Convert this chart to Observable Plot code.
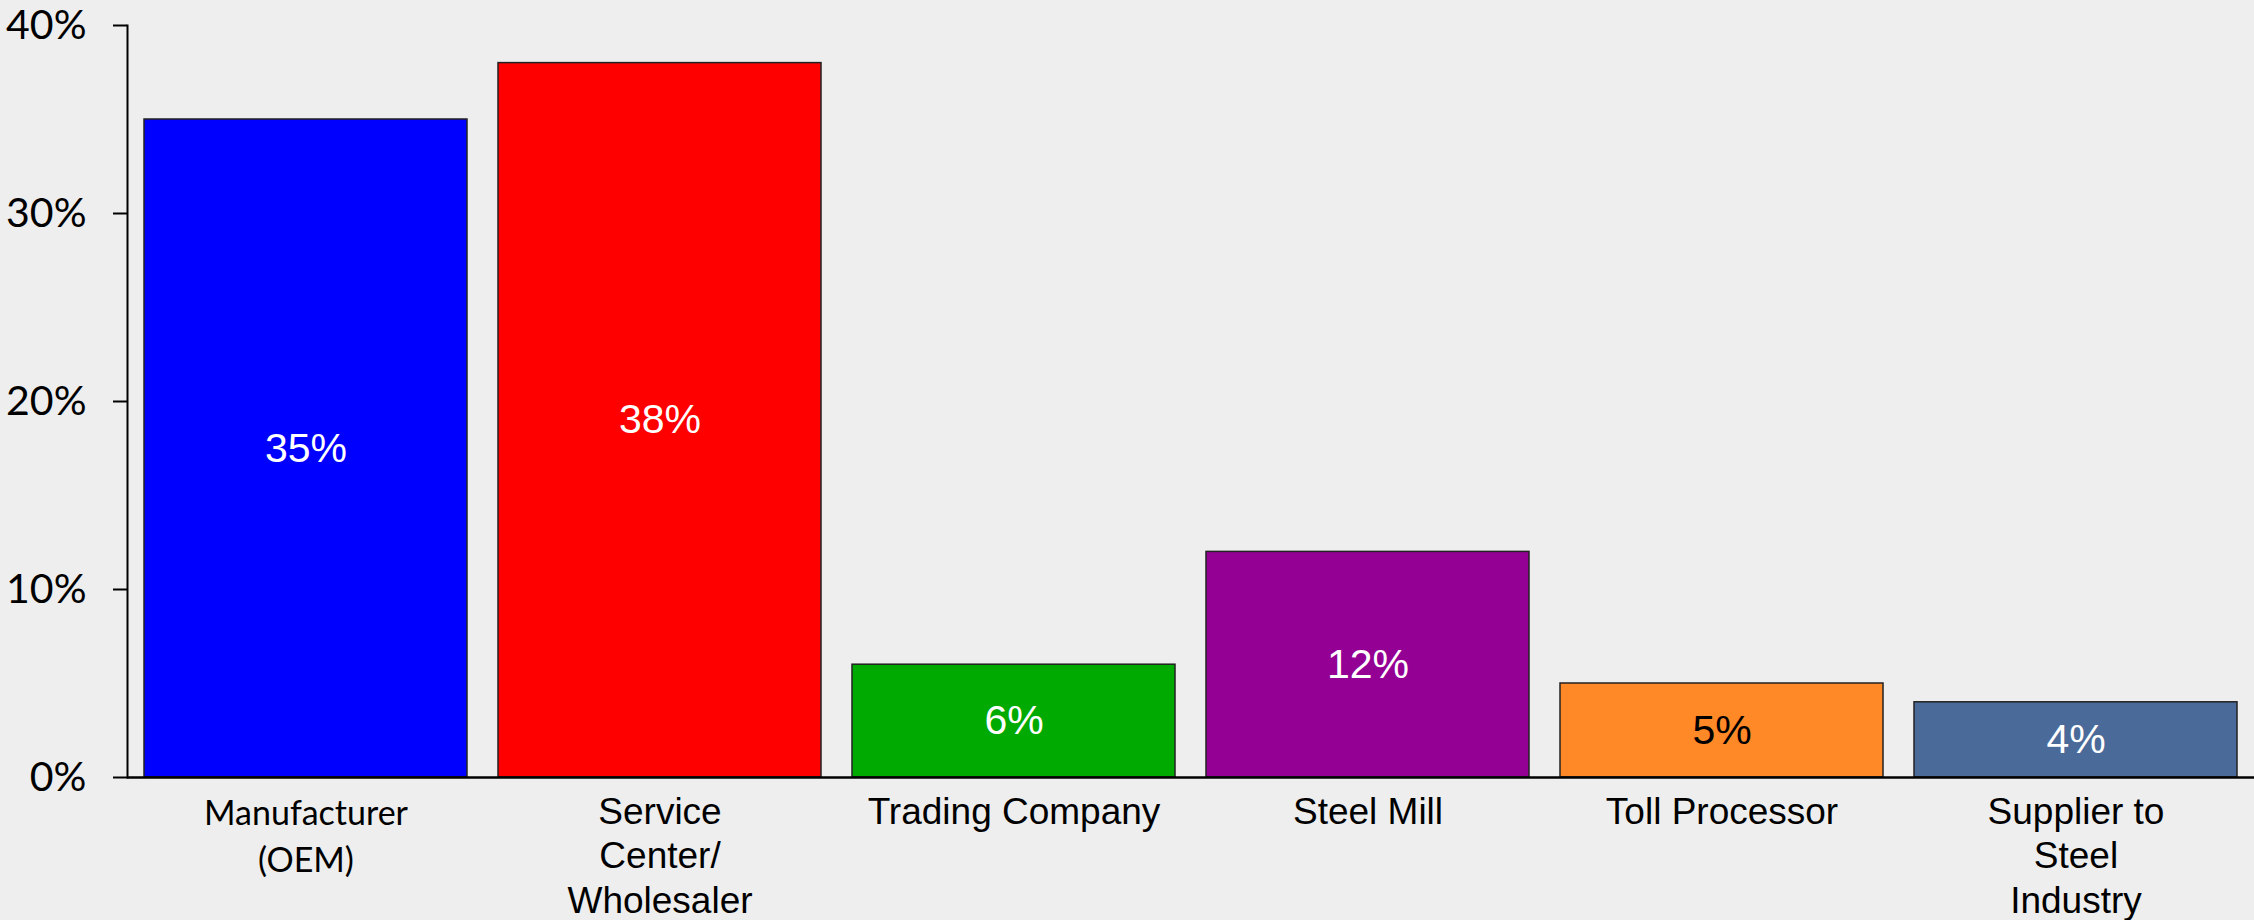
<!DOCTYPE html>
<html><head><meta charset="utf-8">
<script src="https://cdn.jsdelivr.net/npm/d3@7"></script>
<script src="https://cdn.jsdelivr.net/npm/@observablehq/plot@0.6"></script>
<style>html,body{margin:0;padding:0;background:#eeeeee;overflow:hidden}</style>
</head><body><div id="chart"></div>
<script>
const categories = ["Manufacturer\n(OEM)", "Service\nCenter/\nWholesaler", "Trading Company", "Steel Mill", "Toll Processor", "Supplier to\nSteel\nIndustry"];
const values = [0.35, 0.38, 0.06, 0.12, 0.05, 0.04];
const barColors = ["#0000ff", "#ff0000", "#00aa00", "#940094", "#ff8827", "#4a6b9a"];
const labelColors = ["white", "white", "white", "white", "black", "white"];
const yTicks = [0, 0.1, 0.2, 0.3, 0.4];

const data = categories.map((c, i) => ({category: c, value: values[i], barFill: barColors[i], labelFill: labelColors[i]}));

const chart = Plot.plot({
  width: 2254, height: 920,
  marginLeft: 127, marginRight: 0, marginTop: 25, marginBottom: 143,
  style: {background: "#eeeeee", fontFamily: "'Liberation Sans', Arial, sans-serif", color: "black"},
  x: {domain: categories, paddingInner: 0.0886, paddingOuter: 0.045, axis: null},
  y: {domain: [0, 0.4], axis: null},
  color: {type: "identity"},
  marks: [
    Plot.barY(data, {x: "category", y: "value", fill: "barFill", stroke: "#222", strokeWidth: 1.5}),
    Plot.text(data, {x: "category", y: d => d.value / 2, text: d => Math.round(d.value * 100) + "%", fill: "labelFill", fontSize: 41}),
    Plot.text(data.slice(0, 1), {x: "category", y: 0, text: "category", lineAnchor: "top", dy: 14, fontSize: 34, fontFamily: "Lato", lineHeight: 1.38, fill: "black"}),
    Plot.text(data.slice(1), {x: "category", y: 0, text: "category", lineAnchor: "top", dy: 15, fontSize: 37, lineHeight: 1.2, fill: "black"}),
    Plot.axisY({ticks: yTicks, tickFormat: "%", label: null, tickSize: 14, tickPadding: 27, fontSize: 41, fontFamily: "Lato", strokeWidth: 2, stroke: "black", fill: "black"}),
    Plot.frame({anchor: "left", strokeWidth: 2, stroke: "black"}),
    Plot.ruleY([0], {strokeWidth: 2.5, stroke: "black"})
  ]
});
document.getElementById("chart").appendChild(chart);
</script>
</body></html>
